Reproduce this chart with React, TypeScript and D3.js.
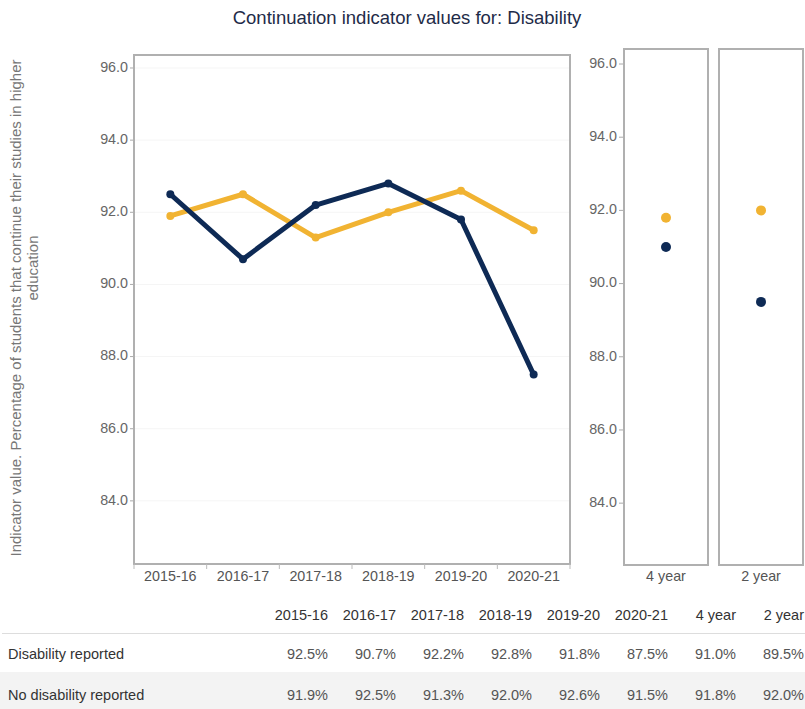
import * as d3 from 'd3';

const years = ['2015-16', '2016-17', '2017-18', '2018-19', '2019-20', '2020-21'];
const periods = ['4 year', '2 year'];
const seriesNames = ['Disability reported', 'No disability reported'];
const disabilityByYear = [92.5, 90.7, 92.2, 92.8, 91.8, 87.5];
const noDisabilityByYear = [91.9, 92.5, 91.3, 92.0, 92.6, 91.5];
const disabilityByPeriod = [91.0, 89.5];
const noDisabilityByPeriod = [91.8, 92.0];
const yTicks = [84, 86, 88, 90, 92, 94, 96];

const NAVY = '#0e2a55';
const GOLD = '#f1b332';
const FONT = "Arial, 'Liberation Sans', sans-serif";

const W = 805;
const H = 709;

export default function App() {
    // main (yearly) panel
    const x = d3.scaleBand<string>().domain(years).range([134, 570]);
    const y = d3.scaleLinear().domain([82.25, 96.36]).range([564, 55]);
    // side panels (4 year / 2 year)
    const xp = d3.scaleBand<string>().domain(periods).range([624, 803]).paddingInner(0.116);
    const yp = d3.scaleLinear().domain([82.31, 96.41]).range([565, 49]);
    // table columns
    const cols = [...years, ...periods];
    const xc = d3.scalePoint<string>().domain(cols).range([328, 804]);
    const fmt = (v: number) => d3.format('.1f')(v) + '%';

    const series = [
        { name: seriesNames[1], color: GOLD, yearly: noDisabilityByYear, period: noDisabilityByPeriod },
        { name: seriesNames[0], color: NAVY, yearly: disabilityByYear, period: disabilityByPeriod },
    ];

    const line = d3.line<number>()
        .x((_, i) => (x(years[i]) as number) + x.bandwidth() / 2)
        .y(d => y(d));

    const tableRows = [
        { name: seriesNames[0], values: [...disabilityByYear, ...disabilityByPeriod] },
        { name: seriesNames[1], values: [...noDisabilityByYear, ...noDisabilityByPeriod] },
    ];

    return (
        <svg width={W} height={H} style={{ position: 'absolute', left: 0, top: 0, fontFamily: FONT }}>
            <rect width={W} height={H} fill="#fff" />

            {/* Title */}
            <text x={407} y={24} textAnchor="middle" fontSize={18.5} fill="#1e2b48">
                Continuation indicator values for: Disability
            </text>

            {/* Y axis title */}
            <text transform="translate(17,308) rotate(-90)" textAnchor="middle" dominantBaseline="middle"
                fontSize={15} fill="#777">
                Indicator value. Percentage of students that continue their studies in higher
            </text>
            <text transform="translate(34,268) rotate(-90)" textAnchor="middle" dominantBaseline="middle"
                fontSize={15} fill="#777">
                education
            </text>

            {/* Main panel */}
            {yTicks.map(t => (
                <g key={t}>
                    <line x1={135} x2={569} y1={y(t)} y2={y(t)} stroke="#f5f5f5" />
                    <line x1={130} x2={134} y1={y(t)} y2={y(t)} stroke="#aaa" />
                    <text x={128} y={y(t)} textAnchor="end" dominantBaseline="middle" fontSize={14.3} fill="#666">
                        {d3.format('.1f')(t)}
                    </text>
                </g>
            ))}
            <rect x={134} y={55} width={436} height={509} fill="none" stroke="#b0b0b0" strokeWidth={2} />
            {[...years.map(d => x(d) as number), 570].map((bx, i) => (
                <line key={i} x1={bx} x2={bx} y1={564} y2={569} stroke="#bbb" />
            ))}
            {years.map(d => (
                <text key={d} x={(x(d) as number) + x.bandwidth() / 2} y={577} textAnchor="middle"
                    dominantBaseline="middle" fontSize={14.3} fill="#555">
                    {d}
                </text>
            ))}
            {series.map(s => (
                <g key={s.name}>
                    <path d={line(s.yearly) ?? ''} fill="none" stroke={s.color} strokeWidth={5}
                        strokeLinejoin="round" strokeLinecap="round" />
                    {s.yearly.map((v, i) => (
                        <circle key={i} cx={(x(years[i]) as number) + x.bandwidth() / 2} cy={y(v)} r={4} fill={s.color} />
                    ))}
                </g>
            ))}

            {/* Side panels */}
            {yTicks.map(t => (
                <g key={'p' + t}>
                    <line x1={619} x2={624} y1={yp(t)} y2={yp(t)} stroke="#aaa" />
                    <text x={617} y={yp(t)} textAnchor="end" dominantBaseline="middle" fontSize={14.3} fill="#666">
                        {d3.format('.1f')(t)}
                    </text>
                </g>
            ))}
            {periods.map(p => (
                <g key={p}>
                    <rect x={xp(p)} y={49} width={xp.bandwidth()} height={516} fill="none" stroke="#b0b0b0" strokeWidth={2} />
                    <text x={(xp(p) as number) + xp.bandwidth() / 2} y={577} textAnchor="middle"
                        dominantBaseline="middle" fontSize={14.3} fill="#555">
                        {p}
                    </text>
                </g>
            ))}
            {series.map(s => s.period.map((v, i) => (
                <circle key={s.name + i} cx={(xp(periods[i]) as number) + xp.bandwidth() / 2} cy={yp(v)} r={5} fill={s.color} />
            )))}

            {/* Table */}
            {cols.map(c => (
                <text key={c} x={xc(c)} y={620} textAnchor="end" fontSize={14.5} fill="#333">{c}</text>
            ))}
            <line x1={2} x2={W} y1={633.5} y2={633.5} stroke="#ddd" />
            <rect x={0} y={672} width={W} height={H - 672} fill="#f3f3f3" />
            {tableRows.map((r, ri) => (
                <g key={r.name}>
                    <text x={8} y={ri === 0 ? 659 : 700} fontSize={14.5} fill="#333">{r.name}</text>
                    {r.values.map((v, i) => (
                        <text key={i} x={xc(cols[i])} y={ri === 0 ? 659 : 700} textAnchor="end" fontSize={14.5} fill="#555">
                            {fmt(v)}
                        </text>
                    ))}
                </g>
            ))}
        </svg>
    );
}
